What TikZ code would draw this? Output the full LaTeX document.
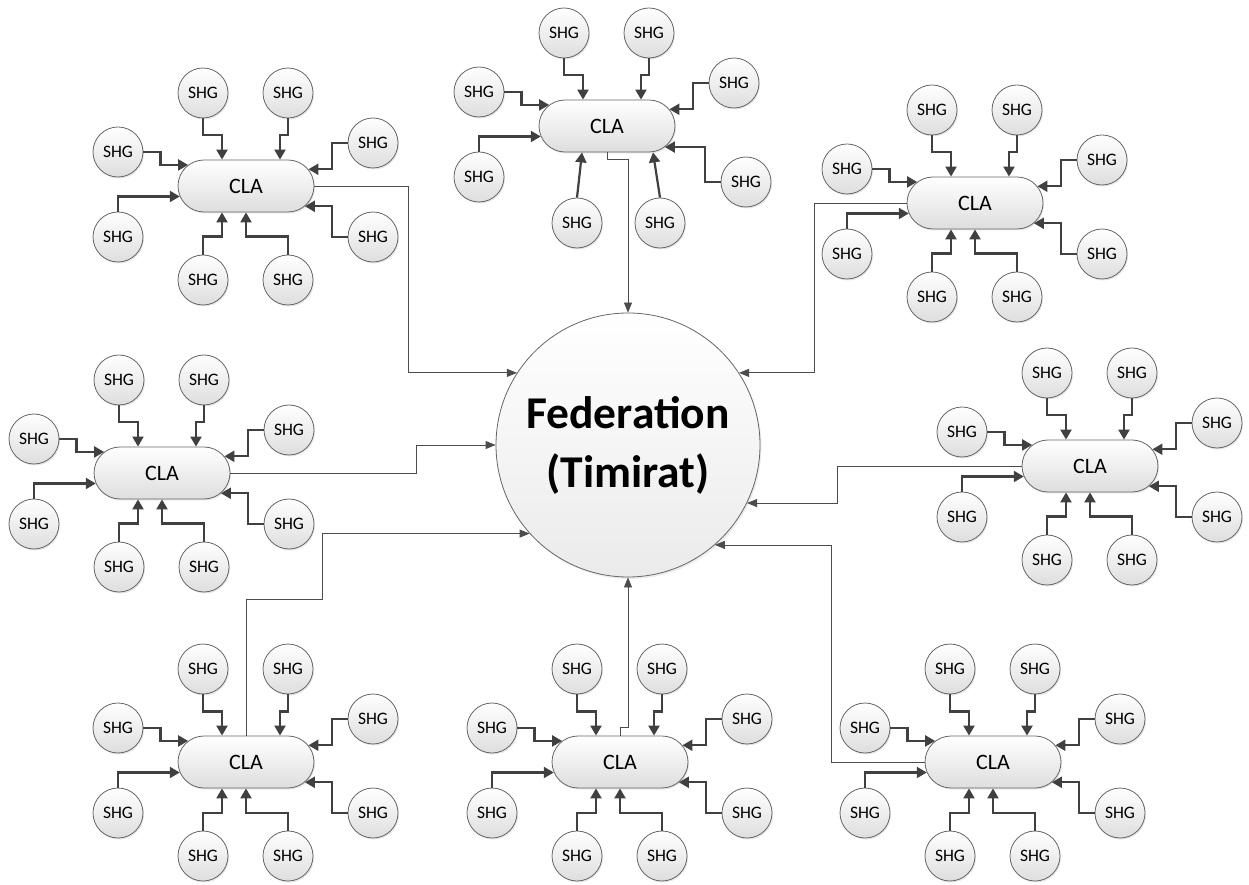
\documentclass[tikz,border=0pt]{standalone}
\usepackage{fontspec}
\setmainfont{Carlito}
\usetikzlibrary{shapes.misc,arrows.meta,shadows}

\begin{document}
\begin{tikzpicture}[x=1pt, y=1pt,
    shg/.style={circle, draw=black!60, line width=0.8pt, top color=white,
      bottom color=black!13, minimum size=50pt, inner sep=0pt,
      font=\fontsize{17.5}{17.5}\selectfont,
      drop shadow={shadow xshift=1pt, shadow yshift=-1.5pt, opacity=0.2}},
    cla/.style={rounded rectangle, draw=black!60, line width=0.8pt,
      top color=white, bottom color=black!13, minimum width=136pt,
      minimum height=52pt, inner sep=0pt, font=\fontsize{22}{22}\selectfont,
      drop shadow={shadow xshift=1pt, shadow yshift=-1.5pt, opacity=0.2}},
    fed/.style={circle, draw=black!60, line width=0.8pt, top color=white,
      bottom color=black!8, minimum size=264pt, inner sep=0pt, align=center,
      font=\bfseries\fontsize{45.5}{59}\selectfont,
      drop shadow={shadow xshift=1.5pt, shadow yshift=-2pt, opacity=0.15}},
    feed/.style={-{Triangle[length=10pt,width=11pt]}, line width=2.2pt,
      draw=black!75},
    link/.style={-{Triangle[length=10pt,width=8pt]}, line width=0.8pt,
      draw=black!70},
    % CLA with the five SHGs every group has
    cla group/.pic={
      \node[cla] (-cla) {CLA};
      \node[shg] (-s1) at (-43,93) {SHG};
      \node[shg] (-s2) at (42,93) {SHG};
      \node[shg] (-s3) at (-128,34) {SHG};
      \node[shg] (-s4) at (127,43) {SHG};
      \node[shg] (-s5) at (-128,-51) {SHG};
      \draw[feed] (-s1.south) -- ++(0,-17) -| ([xshift=-24pt]-cla.north);
      \draw[feed] (-s2.south) -- ++(0,-17) -| ([xshift=34pt]-cla.north);
      \draw[feed] (-s3.east) -- ++(17,0) |- (-cla.160);
      \draw[feed] (-s4.west) -- ++(-16,0) |- (-cla.15);
      \draw[feed] (-s5.north) |- (-cla.189);
    },
    % the three lower SHGs
    cla tail/.pic={
      \node[shg] (-s6) at (127,-51) {SHG};
      \node[shg] (-s7) at (-43,-94) {SHG};
      \node[shg] (-s8) at (42,-94) {SHG};
      \draw[feed] (-s6.west) -- ++(-16,0) |- (-cla.-19);
      \draw[feed] (-s7.north) -- ++(0,18) -| ([xshift=-24pt]-cla.south);
      \draw[feed] (-s8.north) -- ++(0,18) -| (-cla.south);
    }]
  \useasboundingbox (0,0) rectangle (1249,884);

  \node[fed] (fed) at (628,439) {Federation\\(Timirat)};

  \pic (c1) at (246,698) {cla group};
  \pic (c1) at (246,698) {cla tail};
  \pic (c2) at (607,758) {cla group};
  \pic (c3) at (975,681) {cla group};
  \pic (c3) at (975,681) {cla tail};
  \pic (c4) at (162,411) {cla group};
  \pic (c4) at (162,411) {cla tail};
  \pic (c5) at (1090,418) {cla group};
  \pic (c5) at (1090,418) {cla tail};
  \pic (c6) at (246,122) {cla group};
  \pic (c6) at (246,122) {cla tail};
  \pic (c7) at (620,122) {cla group};
  \pic (c7) at (620,122) {cla tail};
  \pic (c8) at (993,122) {cla group};
  \pic (c8) at (993,122) {cla tail};

  % top group: lower SHGs sit a bit differently
  \node[shg] (c2-s6) at (746,702) {SHG};
  \node[shg] (c2-s7) at (577,661) {SHG};
  \node[shg] (c2-s8) at (660,661) {SHG};
  \draw[feed] (c2-s6.west) -- ++(-16,0) |- (c2-cla.-20);
  \draw[feed] (c2-s7.north) -- ([xshift=-25pt]c2-cla.south);
  \draw[feed] (c2-s8.north) -- ([xshift=46pt]c2-cla.south);

  % CLAs to the federation
  \draw[link] (c1-cla.east) -- ++(94,0) |- (fed.147);
  \draw[link] (c2-cla.south) -- ++(0,-7) -| (fed.north);
  \draw[link] (c3-cla.west) -- ++(-92,0) |- (fed.33);
  \draw[link] (c4-cla.east) -- ++(186,0) |- (fed.west);
  \draw[link] (c5-cla.west) -- ++(-184,0) |- (fed.-26);
  \draw[link] (c6-cla.north) -- ++(0,136) -- ++(76,0) |- (fed.222);
  \draw[link] (c7-cla.north) -- ++(0,8) -| (fed.south);
  \draw[link] (c8-cla.west) -- ++(-93,0) |- (fed.-49);
\end{tikzpicture}
\end{document}
